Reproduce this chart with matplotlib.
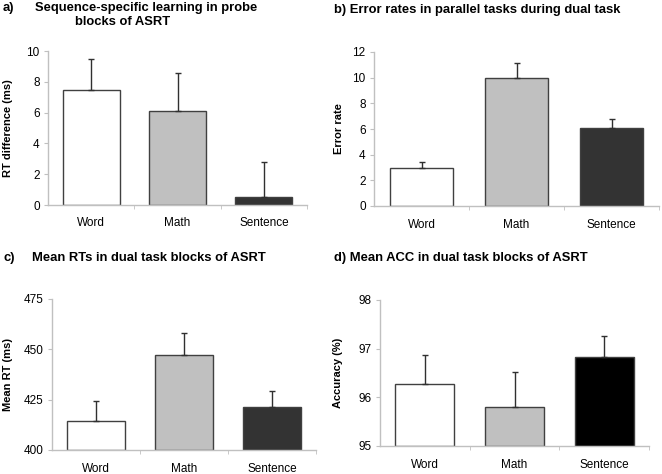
import numpy as np
import matplotlib.pyplot as plt

plt.rcParams['font.family'] = ['Liberation Sans', 'DejaVu Sans']

cats = ['Word', 'Math', 'Sentence']

rt_diff = [7.5, 6.1, 0.55]
rt_diff_top = [9.5, 8.6, 2.8]

err_rate = [3.0, 10.0, 6.05]
err_rate_top = [3.4, 11.15, 6.8]

mean_rt = [414.5, 447.2, 421.5]
mean_rt_top = [424.2, 458.0, 429.2]

mean_acc = [96.27, 95.8, 96.83]
mean_acc_top = [96.88, 96.53, 97.27]

W, H = 662, 474
fig = plt.figure(figsize=(W / 100, H / 100), dpi=100)

def px_axes(l, r, t, b):
    return fig.add_axes([l / W, (H - b) / H, (r - l) / W, (b - t) / H])

def panel(ax, vals, tops, colors, ylim, yticks, ylabel):
    x = np.arange(len(cats))
    heights = [v - ylim[0] for v in vals]
    ax.bar(x, heights, bottom=ylim[0], width=0.66, color=colors,
           edgecolor='#404040', lw=1, zorder=2)
    up = [t - v for t, v in zip(tops, vals)]
    ax.errorbar(x, vals, yerr=[np.zeros(len(vals)), up], fmt='none',
                ecolor='#303030', elinewidth=1, capsize=2, capthick=1, zorder=3)
    ax.set_xlim(-0.5, 2.5)
    ax.set_ylim(*ylim)
    ax.set_yticks(yticks)
    ax.set_xticks(x)
    ax.set_xticklabels(cats)
    ax.set_xticks([0.5, 1.5, 2.5], minor=True)
    ax.tick_params(axis='x', which='major', length=0, pad=9, labelsize=8.5)
    ax.tick_params(axis='x', which='minor', length=3, color='#c0c0c0', direction='out')
    ax.tick_params(axis='y', length=3, color='#c0c0c0', labelsize=8.5, pad=3)
    for s in ['top', 'right']:
        ax.spines[s].set_visible(False)
    for s in ['left', 'bottom']:
        ax.spines[s].set_color('#c0c0c0')
        ax.spines[s].set_linewidth(1)
    ax.set_ylabel(ylabel, fontsize=8, fontweight='bold')

grey3 = ['white', '#c0c0c0', '#333333']

ax_a = px_axes(48, 307, 51, 205)
panel(ax_a, rt_diff, rt_diff_top, grey3, (0, 10), [0, 2, 4, 6, 8, 10], 'RT difference (ms)')
ax_a.yaxis.set_label_coords(-0.135, 0.5)

ax_b = px_axes(374, 659, 52, 206)
panel(ax_b, err_rate, err_rate_top, grey3, (0, 12), [0, 2, 4, 6, 8, 10, 12], 'Error rate')
ax_b.yaxis.set_label_coords(-0.105, 0.5)

ax_c = px_axes(52, 316, 299, 450)
panel(ax_c, mean_rt, mean_rt_top, grey3, (400, 475), [400, 425, 450, 475], 'Mean RT (ms)')
ax_c.yaxis.set_label_coords(-0.148, 0.5)

ax_d = px_axes(380, 649, 300, 446)
panel(ax_d, mean_acc, mean_acc_top, ['white', '#c0c0c0', 'black'], (95, 98), [95, 96, 97, 98], 'Accuracy (%)')
ax_d.yaxis.set_label_coords(-0.138, 0.5)

tkw = dict(fontsize=9.4, fontweight='bold', va='center', ha='left')
fig.text(3 / W, 1 - 8 / H, 'a)', **tkw)
fig.text(35 / W, 1 - 8 / H, 'Sequence-specific learning in probe', **tkw)
fig.text(75 / W, 1 - 22 / H, 'blocks of ASRT', **tkw)
fig.text(334 / W, 1 - 10 / H, 'b) Error rates in parallel tasks during dual task', **tkw)
fig.text(3 / W, 1 - 258 / H, 'c)', **tkw)
fig.text(32 / W, 1 - 258 / H, 'Mean RTs in dual task blocks of ASRT', **tkw)
fig.text(334 / W, 1 - 258 / H, 'd) Mean ACC in dual task blocks of ASRT', **tkw)

fig.savefig('out.png', dpi=100)
